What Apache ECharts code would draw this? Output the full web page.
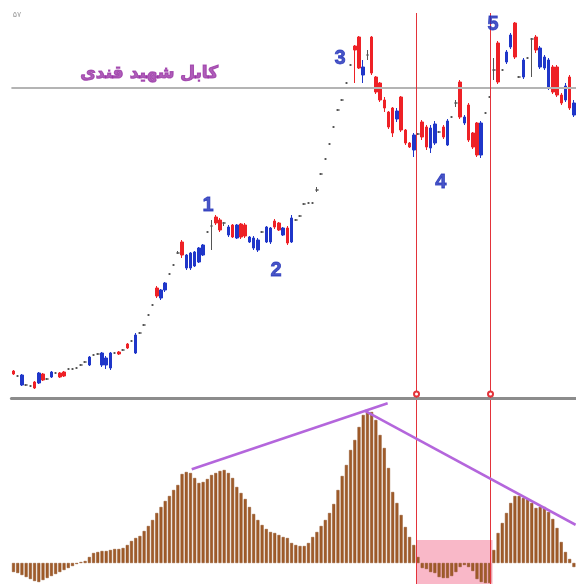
<!DOCTYPE html>
<html><head><meta charset="utf-8">
<script src="https://cdn.jsdelivr.net/npm/echarts@6/dist/echarts.min.js"></script>
<style>html,body{margin:0;padding:0;background:#fff;}#c{width:576px;height:584px;}</style>
</head><body><div id="c"></div>
<script>
// price series (chart units; higher = higher price)
const opens  = [27,22,13,13,12,16,15,24,19,21,25,25,26,29,29,30,33,36,33,43,44,33,33,30,45,46,48,54,57,45,65,73,83,93,110,100,108,124,133,145,156,130,130,132,136,143,166,172,181,178,175,163,173,160,174,173,156,150,148,166,156,156,177,175,163,170,156,178,182,194,195,195,208,224,239,254,271,288,298,315,333,352,361,323,343,361,321,315,298,286,290,279,301,268,255,248,264,276,271,250,255,266,271,253,281,295,316,275,293,265,275,243,285,301,328,355,328,336,351,375,321,321,340,359,361,331,330,310,331,331,303,298,321,283];
const closes = [24,22,23,13,12,10,25,18,19,26,25,21,22,29,29,30,33,36,41,43,44,45,40,45,45,44,48,50,57,63,65,73,83,93,102,108,115,124,133,145,143,143,145,146,150,153,166,172,175,168,175,171,161,173,161,162,161,160,158,166,171,170,171,168,170,155,180,178,182,194,195,195,208,224,239,254,271,288,298,315,333,348,330,331,343,325,306,298,290,271,265,287,268,255,251,263,264,261,251,270,274,266,261,277,281,295,281,281,258,251,243,275,285,301,328,316,328,346,363,341,321,338,340,359,348,350,341,338,306,303,295,312,290,295];
const lows   = [23,21,12,12,11,9,14,17,18,20,24,20,21,28,28,29,32,35,32,42,43,31,29,28,44,43,47,49,56,44,64,72,82,92,100,98,106,123,132,144,140,128,128,131,135,142,165,148,173,166,172,161,160,159,159,160,155,148,146,165,155,154,169,167,162,153,155,177,181,193,194,194,206,223,238,253,270,287,297,314,332,315,329,315,338,323,304,296,286,269,261,276,266,253,250,241,263,258,248,245,253,265,259,252,280,291,279,273,256,249,241,240,284,300,318,314,327,334,349,339,320,319,339,321,345,329,328,308,304,301,293,296,288,281];
const highs  = [28,23,24,14,13,17,26,25,20,27,26,26,27,30,30,31,34,37,42,44,45,46,42,46,46,47,49,55,58,65,66,74,84,94,112,109,116,125,134,147,158,144,146,147,151,154,167,178,183,180,176,173,174,174,175,175,162,162,160,167,172,171,179,176,171,172,183,179,183,195,196,196,211,225,240,255,272,289,299,316,334,353,362,338,348,362,322,316,301,287,291,290,302,269,256,265,265,278,273,273,277,267,273,279,282,298,318,283,295,266,276,277,286,302,340,357,329,348,365,376,322,340,341,360,363,352,343,340,333,333,305,315,323,298];
// oscillator histogram
const histogram = [-9,-10,-12,-14,-16,-18,-19,-17,-15,-13,-11,-9,-7,-5,-3,-1,1,2,6,10,11,12,12,13,14,14,15,18,22,25,27,32,37,43,50,56,62,67,73,78,89,91,90,85,80,81,84,88,90,92,93,90,85,76,70,64,56,49,43,38,34,31,30,28,26,25,20,18,17,17,20,26,31,37,43,50,59,73,87,98,113,123,136,148,151,151,143,128,115,95,71,60,48,36,26,18,6,-5,-6,-9,-10,-14,-15,-15,-13,-9,-4,-2,-4,-8,-16,-19,-20,-20,13,30,40,50,60,67,67,65,64,60,55,56,56,51,44,35,21,11,4,-4];
const categories = opens.map((_, i) => String(i + 1));
// annotations (data units: bar index, value)
const resistanceLevel = 310;
const verticalMarks = [95.65, 113.21];
const levelTitle = 'کابل شهید قندی';
const levelTitleAt = [32.2, 324];
const cornerNote = '۵۷';
const cornerNoteAt = [-0.2, 383];
const waveNames = ['1', '2', '3', '4', '5'];
const waveAt = [[46.2, 193], [62.3, 128], [77.5, 340], [101.4, 216], [113.8, 374]];
const trendLines = [[[42.3, 93.7], [88.8, 159.7]], [[83.3, 152.3], [133.4, 38.2]]];
const divergenceZone = [[95.6, 23], [113.7, -21]];

const N = opens.length;
const chart = echarts.init(document.getElementById('c'), null, {renderer: 'canvas'});
const RED = '#e3333a', BLUE = '#1f36c9', PURPLE = '#b466dc';
const topPriceMax = 398, sepPrice = 4;

const labelData = waveNames.map((t, k) => ({
  value: waveAt[k],
  label: {show: true, formatter: t, color: '#1b2cb8', fontSize: 20, fontWeight: 'bold',
          fontFamily: 'Liberation Sans, Arial, sans-serif', textBorderColor: '#1b2cb8', textBorderWidth: 0.8}
}));
labelData.push({
  value: levelTitleAt,
  label: {show: true, formatter: levelTitle, color: '#9a36a6', fontSize: 17, fontWeight: 'bold',
          fontFamily: 'DejaVu Sans, sans-serif', textBorderColor: '#9a36a6', textBorderWidth: 1.1}
});
labelData.push({
  value: cornerNoteAt,
  label: {show: true, formatter: cornerNote, color: '#888', fontSize: 8, fontFamily: 'DejaVu Sans, sans-serif', align: 'left'}
});

chart.setOption({
  animation: false,
  backgroundColor: '#ffffff',
  grid: [
    {left: 11.4, right: 0, top: 0, height: 398},
    {left: 11.4, right: 0, top: 400, height: 184}
  ],
  xAxis: [
    {type: 'category', gridIndex: 0, data: categories, boundaryGap: true,
     axisLine: {show: true, lineStyle: {color: '#8c8c8c', width: 3}},
     axisTick: {show: false}, axisLabel: {show: false}, splitLine: {show: false}},
    {type: 'value', gridIndex: 0, min: -0.5, max: N - 0.5, show: false},
    {type: 'category', gridIndex: 1, data: categories, show: false},
    {type: 'value', gridIndex: 1, min: -0.5, max: N - 0.5, show: false}
  ],
  yAxis: [
    {type: 'value', gridIndex: 0, min: 0, max: topPriceMax, show: false, splitLine: {show: false}},
    {type: 'value', gridIndex: 1, min: -21, max: 163, show: false, splitLine: {show: false}}
  ],
  series: [
    {
      type: 'line', xAxisIndex: 1, yAxisIndex: 0, data: [], z: 1,
      markLine: {
        silent: true, symbol: ['none', 'none'], label: {show: false}, animation: false,
        data: [
          [{coord: [-0.5, resistanceLevel], lineStyle: {color: '#b4b4b4', width: 2, type: 'solid'}}, {coord: [N - 0.5, resistanceLevel]}]
        ]
      }
    },
    {
      type: 'candlestick', xAxisIndex: 0, yAxisIndex: 0, barWidth: 3, z: 2,
      data: opens.map((o, i) => [o, closes[i], lows[i], highs[i]]),
      itemStyle: {color: BLUE, color0: '#ee2126', borderColor: BLUE, borderColor0: '#ee2126', borderColorDoji: '#555', borderWidth: 1}
    },
    {
      type: 'line', xAxisIndex: 1, yAxisIndex: 0, data: [], z: 5,
      markLine: {
        silent: true, symbol: ['none', 'none'], label: {show: false}, animation: false,
        data: verticalMarks.map(x => [{coord: [x, 385], lineStyle: {color: RED, width: 1, type: 'solid'}}, {coord: [x, 0]}])
      },
      markPoint: {
        silent: true, animation: false,
        symbol: 'emptyCircle', symbolSize: 5,
        itemStyle: {color: RED, borderColor: RED, borderWidth: 1},
        label: {show: false},
        data: verticalMarks.map(x => ({coord: [x, sepPrice]}))
      }
    },
    {
      type: 'scatter', xAxisIndex: 1, yAxisIndex: 0, symbolSize: 1, z: 6,
      itemStyle: {color: 'rgba(0,0,0,0)'},
      label: {show: true, position: 'inside'},
      data: labelData
    },
    {
      type: 'line', xAxisIndex: 3, yAxisIndex: 1, data: [], z: 1,
      markArea: {
        silent: true, animation: false,
        itemStyle: {color: 'rgba(247,160,182,0.75)'},
        data: [[{coord: divergenceZone[0]}, {coord: divergenceZone[1]}]]
      }
    },
    {
      type: 'bar', xAxisIndex: 2, yAxisIndex: 1, barWidth: 3, z: 2,
      data: histogram,
      itemStyle: {color: '#a05c2a', borderColor: '#8a4a1e', borderWidth: 0.5}
    },
    {
      type: 'line', xAxisIndex: 3, yAxisIndex: 1, data: [], z: 5,
      markLine: {
        silent: true, symbol: ['none', 'none'], label: {show: false}, animation: false,
        data: verticalMarks.map(x => [{coord: [x, 163], lineStyle: {color: RED, width: 1, type: 'solid'}}, {coord: [x, -21]}])
          .concat(trendLines.map(t => [{coord: t[0], lineStyle: {color: PURPLE, width: 2.5, type: 'solid'}}, {coord: t[1]}]))
      }
    }
  ]
});
</script>
</body></html>
